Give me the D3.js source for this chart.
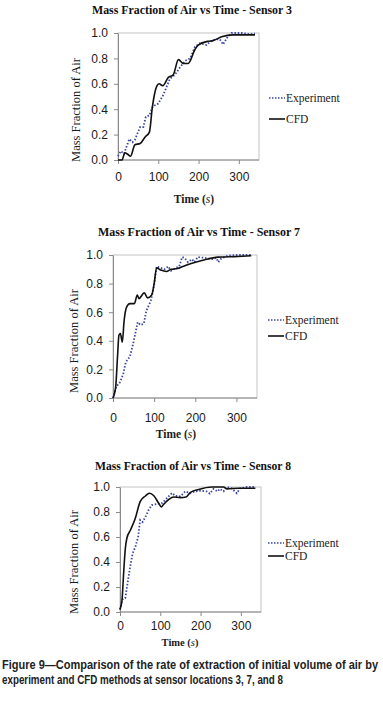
<!DOCTYPE html>
<html>
<head>
<meta charset="utf-8">
<script src="https://cdn.jsdelivr.net/npm/d3@7"></script>
<style>
  body { margin: 0; background: #fff; }
  svg { display: block; }
</style>
</head>
<body>
<div id="canvas"></div>
<script>
"use strict"

let svgWidth = 383
let svgHeight = 706

/* tick labels */
let xTicks = [0, 100, 200, 300]
let yTicks = [0, 0.2, 0.4, 0.6, 0.8, 1.0]
let legendLabels = ["Experiment", "CFD"]

/* Sensor 3 : [time (s), mass fraction] */
let s3Experiment = [
  [0, 0.03], [7, 0.07], [15, 0.05], [28, 0.165], [36, 0.14], [42, 0.16], [55, 0.26], [63, 0.26],
  [69, 0.34], [78, 0.35], [86, 0.42], [100, 0.445], [112, 0.51], [129, 0.64], [141, 0.67],
  [154, 0.73], [166, 0.78], [179, 0.8], [191, 0.89], [203, 0.92], [220, 0.905], [228, 0.93],
  [241, 0.95], [253, 0.95], [261, 0.91], [270, 0.96], [282, 1.0], [307, 1.0], [328, 0.99], [340, 0.995]
]
let s3Cfd = [
  [0, 0], [10, 0], [17, 0.057], [24, 0.045], [31, 0.03], [42, 0.12], [55, 0.13], [67, 0.18],
  [78, 0.22], [85, 0.41], [96, 0.58], [102, 0.6], [111, 0.585], [125, 0.65], [137, 0.67],
  [150, 0.79], [162, 0.76], [174, 0.76], [191, 0.87], [199, 0.905], [224, 0.935], [236, 0.94],
  [257, 0.97], [286, 0.985], [340, 0.985]
]

/* Sensor 7 */
let s7Experiment = [
  [0, 0], [8, 0.08], [17, 0.11], [25, 0.17], [31, 0.25], [41, 0.29], [49, 0.38], [60, 0.53],
  [67, 0.51], [75, 0.52], [81, 0.61], [92, 0.68], [100, 0.79], [106, 0.92], [116, 0.91],
  [125, 0.9], [134, 0.92], [141, 0.89], [153, 0.91], [161, 0.92], [168, 0.985], [174, 0.98],
  [182, 0.95], [192, 0.97], [198, 0.95], [206, 0.985], [223, 0.98], [239, 0.97], [251, 0.98],
  [256, 0.95], [263, 0.975], [279, 0.995], [303, 1.0], [336, 1.0]
]
let s7Cfd = [
  [0, 0], [6.5, 0.077], [11, 0.29], [14.5, 0.44], [18, 0.45], [22.6, 0.39], [27, 0.54],
  [33, 0.636], [41, 0.66], [52, 0.66], [59, 0.72], [63, 0.695], [76, 0.735], [84, 0.7],
  [94, 0.72], [100, 0.8], [106, 0.91], [116, 0.895], [130, 0.885], [141, 0.9], [157, 0.905],
  [170, 0.92], [190, 0.94], [223, 0.967], [255, 0.985], [303, 0.99], [336, 0.995]
]

/* Sensor 8 */
let s8Experiment = [
  [0, 0.02], [6, 0.1], [13, 0.11], [20, 0.256], [26, 0.376], [31.5, 0.47], [38, 0.52],
  [45, 0.6], [50, 0.736], [56, 0.72], [63, 0.76], [71, 0.816], [79, 0.856], [92, 0.864],
  [104, 0.87], [116, 0.91], [129, 0.952], [137, 0.93], [150, 0.925], [162, 0.965], [174, 0.95],
  [186, 0.965], [199, 0.97], [215, 0.965], [223, 0.947], [232, 0.985], [242, 0.965],
  [248, 0.985], [257, 0.965], [265, 1.0], [277, 0.99], [290, 0.95], [298, 0.99], [315, 1.0],
  [337, 1.0]
]
let s8Cfd = [
  [0, 0.02], [5, 0.096], [9, 0.31], [13, 0.5], [17, 0.59], [26, 0.656], [38, 0.75],
  [50, 0.883], [63, 0.928], [73, 0.95], [84, 0.93], [96, 0.87], [102.5, 0.84], [108, 0.86],
  [121, 0.9], [133, 0.92], [150, 0.915], [164, 0.92], [174, 0.955], [195, 0.98], [228, 1.0],
  [257, 1.0], [265, 0.985], [294, 0.99], [336, 0.99]
]

let serif = "'Liberation Serif', 'Times New Roman', serif"
let sans = "'Liberation Sans', Arial, sans-serif"
let expColor = "#3a46a0"

let svg = d3.select("#canvas")
  .append("svg")
  .attr("width", svgWidth)
  .attr("height", svgHeight)

svg.append("rect")
  .attr("width", svgWidth)
  .attr("height", svgHeight)
  .attr("fill", "#fff")

/* one panel per sensor; layout */
let panels = [
  {title: "Mass Fraction of Air vs Time - Sensor 3", exp: s3Experiment, cfd: s3Cfd,
   left: 118, right: 259, top: 33, bottom: 160, titleX: 192, titleY: 14, titleW: 200,
   yTitleX: 76, yTitleY: 110, xPad: 8, xTitleX: 194, xTitleY: 203, xTitleSize: 11.5,
   legX: 269, legY: [98, 119]},
  {title: "Mass Fraction of Air vs Time - Sensor 7", exp: s7Experiment, cfd: s7Cfd,
   left: 113, right: 257, top: 255, bottom: 398, titleX: 199, titleY: 236, titleW: 202,
   yTitleX: 74, yTitleY: 341, xPad: 11, xTitleX: 176, xTitleY: 438, xTitleSize: 11.5,
   legX: 268, legY: [320, 336]},
  {title: "Mass Fraction of Air vs Time - Sensor 8", exp: s8Experiment, cfd: s8Cfd,
   left: 120, right: 261, top: 487, bottom: 612, titleX: 193, titleY: 470, titleW: 196,
   yTitleX: 74, yTitleY: 562, xPad: 5, xTitleX: 180, xTitleY: 646, xTitleSize: 10.5,
   legX: 268, legY: [543, 556]}
]

panels.forEach(function(p) {
  let g = svg.append("g")

  let xScale = d3.scaleLinear().domain([0, 350]).range([p.left, p.right])
  let yScale = d3.scaleLinear().domain([0, 1]).range([p.bottom, p.top])

  // title
  g.append("text")
    .attr("x", p.titleX)
    .attr("y", p.titleY)
    .attr("text-anchor", "middle")
    .attr("font-family", serif)
    .attr("font-weight", "bold")
    .attr("font-size", 12.5)
    .attr("textLength", p.titleW)
    .attr("lengthAdjust", "spacingAndGlyphs")
    .attr("fill", "#111")
    .text(p.title)

  // plot area border
  g.append("rect")
    .attr("x", p.left)
    .attr("y", p.top)
    .attr("width", p.right - p.left)
    .attr("height", p.bottom - p.top)
    .attr("fill", "none")
    .attr("stroke", "#c4c4c4")
    .attr("stroke-width", 1)

  // axes
  let yAxis = g.append("g")
    .attr("transform", "translate(" + p.left + ",0)")
    .call(d3.axisLeft(yScale).tickValues(yTicks).tickFormat(d3.format(".1f"))
      .tickSize(4).tickSizeOuter(0).tickPadding(6))
  let xAxis = g.append("g")
    .attr("transform", "translate(0," + p.bottom + ")")
    .call(d3.axisBottom(xScale).tickValues(xTicks).tickFormat(d3.format("d"))
      .tickSize(4).tickSizeOuter(0).tickPadding(p.xPad))

  ;[yAxis, xAxis].forEach(function(a) {
    a.select(".domain").attr("stroke", "#8a8a8a")
    a.selectAll(".tick line").attr("stroke", "#8a8a8a")
    a.selectAll(".tick text")
      .attr("font-family", sans)
      .attr("font-size", 12)
      .attr("fill", "#1a1a1a")
  })
  xAxis.select(".domain").attr("d", "M" + p.left + ",0H" + p.right)

  // axis titles
  g.append("text")
    .attr("transform", "translate(" + (p.yTitleX + 4) + "," + p.yTitleY + ") rotate(-90)")
    .attr("text-anchor", "middle")
    .attr("font-family", serif)
    .attr("font-size", 12.5)
    .attr("fill", "#1a1a1a")
    .text("Mass Fraction of Air")

  let xt = g.append("text")
    .attr("x", p.xTitleX)
    .attr("y", p.xTitleY)
    .attr("text-anchor", "middle")
    .attr("font-family", serif)
    .attr("font-weight", "bold")
    .attr("font-size", p.xTitleSize)
    .attr("fill", "#1a1a1a")
  xt.append("tspan").text("Time (")
  xt.append("tspan").attr("font-style", "italic").attr("font-weight", "normal").text("s")
  xt.append("tspan").text(")")

  // series
  let line = d3.line()
    .x(function(d) { return xScale(d[0]) })
    .y(function(d) { return yScale(d[1]) })

  g.append("path")
    .datum(p.exp)
    .attr("d", line.curve(d3.curveLinear))
    .attr("fill", "none")
    .attr("stroke", expColor)
    .attr("stroke-width", 1.8)
    .attr("stroke-dasharray", "1.5,1.8")

  g.append("path")
    .datum(p.cfd)
    .attr("d", line.curve(d3.curveMonotoneX))
    .attr("fill", "none")
    .attr("stroke", "#111")
    .attr("stroke-width", 1.6)

  // legend
  legendLabels.forEach(function(name, i) {
    let ly = p.legY[i]
    g.append("line")
      .attr("x1", p.legX)
      .attr("x2", p.legX + 16)
      .attr("y1", ly)
      .attr("y2", ly)
      .attr("stroke", i === 0 ? expColor : "#111")
      .attr("stroke-width", 1.6)
      .attr("stroke-dasharray", i === 0 ? "1.5,1.5" : null)
    g.append("text")
      .attr("x", p.legX + 17)
      .attr("y", ly + 4)
      .attr("font-family", serif)
      .attr("font-size", 11.5)
      .attr("fill", "#1a1a1a")
      .text(name)
  })
})

/* figure caption: condensed bold sans, stretched a little vertically */
let caption = [
  "Figure 9\u2014Comparison of the rate of extraction of initial volume of air by",
  "experiment and CFD methods at sensor locations 3, 7, and 8"
]
let captionW = [376, 281]
caption.forEach(function(t, i) {
  svg.append("text")
    .attr("transform", "translate(2," + (669 + i * 15) + ") scale(1,1.12)")
    .attr("font-family", sans)
    .attr("font-weight", "bold")
    .attr("font-size", 10.8)
    .attr("textLength", captionW[i])
    .attr("lengthAdjust", "spacingAndGlyphs")
    .attr("fill", "#222")
    .text(t)
})
</script>
</body>
</html>
